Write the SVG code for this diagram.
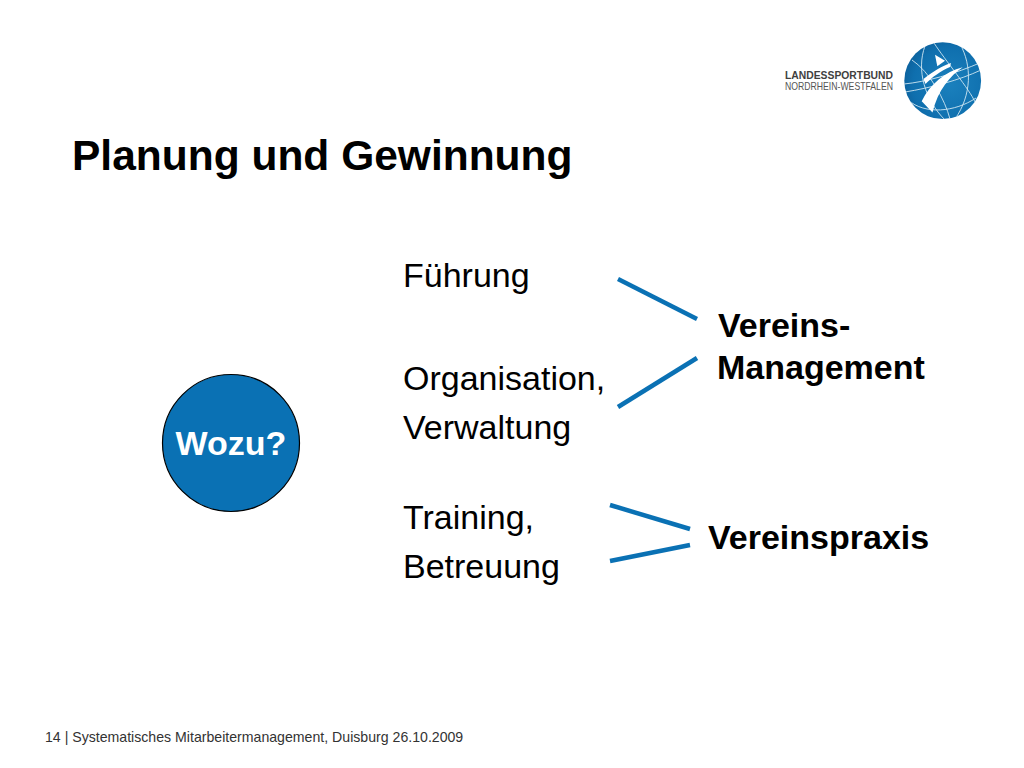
<svg xmlns="http://www.w3.org/2000/svg" width="1024" height="768" viewBox="0 0 1024 768">
<defs>
<radialGradient id="ball" cx="0.6" cy="0.55" r="0.7"><stop offset="0" stop-color="#1a80bd"/><stop offset="0.7" stop-color="#0f6fae"/><stop offset="1" stop-color="#0b5a94"/></radialGradient>
<clipPath id="ballclip"><circle cx="942.7" cy="80.7" r="38.4"/></clipPath>
</defs>
<style>
text{font-family:"Liberation Sans",Arial,sans-serif;fill:#000}
.t{font-size:34px}
.v{font-size:34px;font-weight:bold}
.c{stroke:#0a71b4;stroke-width:4.5;fill:none}
.g{stroke:#cfe6f2;stroke-width:0.9;fill:none}
</style>
<rect width="1024" height="768" fill="#fff"/>
<g id="logo">
<text x="785" y="78.5" textLength="108" lengthAdjust="spacingAndGlyphs" style="font-size:10.4px;font-weight:bold;fill:#3f3f3f">LANDESSPORTBUND</text>
<text x="785" y="90" textLength="108" lengthAdjust="spacingAndGlyphs" style="font-size:10.4px;fill:#555">NORDRHEIN-WESTFALEN</text>
<circle cx="942.7" cy="80.7" r="38.4" fill="url(#ball)"/>
<g clip-path="url(#ballclip)">
<path class="g" d="M904 84C925 82 955 74 982 62"/>
<path class="g" d="M905 92C930 88 960 80 981 70"/>
<path class="g" d="M925 46C916 70 925 100 945 120"/>
<path class="g" d="M960 44C972 65 972 95 955 119"/>
<path class="g" d="M908 100C925 115 955 112 976 98"/>
<path class="g" d="M934 43C945 60 970 90 975 102"/>
<path class="g" d="M912 60C930 72 945 100 950 119"/>
<path fill="#fff" d="M962.7 67.3C950 76 938 90 932.5 112.5L921.7 101.3C930 84 945 72 962.7 67.3Z"/>
<path fill="#fff" d="M923.5 79C932 72 942 66 951 63L950 67C941 71 932 77 925.5 84Z"/>
<path fill="#fff" d="M935 54.7L945 60.7L937.3 66.3Z"/>
</g>
</g>
<text id="title" x="72" y="170" style="font-size:42.5px;font-weight:bold">Planung und Gewinnung</text>
<g id="labels">
<text class="t" x="403" y="287">Führung</text>
<text class="t" x="403" y="390">Organisation,</text>
<text class="t" x="403" y="439">Verwaltung</text>
<text class="t" x="403" y="529">Training,</text>
<text class="t" x="403" y="578">Betreuung</text>
</g>
<g id="wozu">
<circle cx="231" cy="443" r="68.5" fill="#0a71b4" stroke="#000" stroke-width="1.2"/>
<text x="231" y="455" text-anchor="middle" style="font-size:34px;font-weight:bold;fill:#fff">Wozu?</text>
</g>
<g id="connectors">
<line class="c" x1="618" y1="279" x2="697" y2="319"/>
<line class="c" x1="618" y1="407" x2="697" y2="358"/>
<line class="c" x1="610" y1="505" x2="690" y2="529"/>
<line class="c" x1="610" y1="561" x2="690" y2="545"/>
</g>
<g id="vereinsmanagement">
<text class="v" x="718" y="337">Vereins-</text>
<text class="v" x="717" y="379">Management</text>
</g>
<g id="vereinspraxis">
<text class="v" x="708" y="549">Vereinspraxis</text>
</g>
<text id="footer" x="45" y="742" style="font-size:14.13px;fill:#333">14 | Systematisches Mitarbeitermanagement, Duisburg 26.10.2009</text>
</svg>
